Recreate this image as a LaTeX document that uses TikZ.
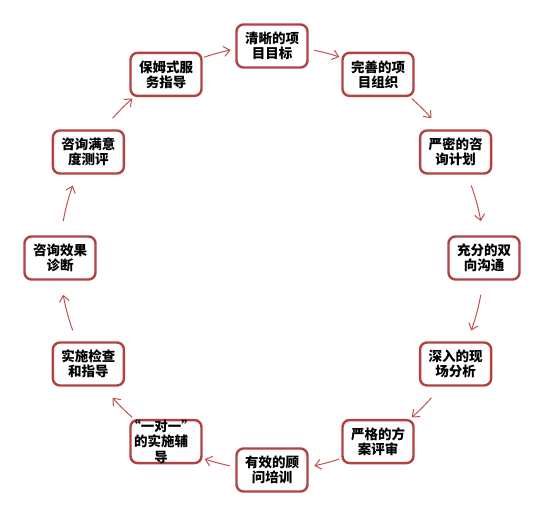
\documentclass[tikz,border=0pt]{standalone}
\usepackage{fontspec}
\newfontfamily\cjk{Noto Sans CJK SC}
\usetikzlibrary{arrows.meta}
\definecolor{boxred}{RGB}{178,66,66}
\definecolor{arrred}{RGB}{192,80,77}
\begin{document}
\begin{tikzpicture}[x=1pt,y=1pt,
  box/.style={draw=boxred, line width=2.4pt, rounded corners=7pt,
    minimum width=71pt, minimum height=43pt, inner sep=0pt, align=center,
    fill=white, font=\cjk\bfseries\fontsize{13.5}{15}\selectfont},
  txt/.style={inner sep=0pt, align=center, font=\cjk\bfseries\fontsize{13.5}{15.5}\selectfont},
  arr/.style={draw=arrred, line width=1pt, -{Straight Barb[length=6pt,width=10pt]}}]
\useasboundingbox (0,0) rectangle (554,511);
\begin{scope}[shift={(272,253)}]
\node[box] (n1) at (90:212) {清晰的项\\目目标};
\node[box] (n2) at (60:212) {完善的项\\目组织};
\node[box] (n3) at (30:212) {严密的咨\\询计划};
\node[box] (n4) at (0:212) {充分的双\\向沟通};
\node[box] (n5) at (-30:212) {深入的现\\场分析};
\node[box] (n6) at (-60:212) {严格的方\\案评审};
\node[box] (n7) at (-90:212) {有效的顾\\问培训};
\node[box] (n8) at (-120:212) {};
\node[txt, xshift=-5pt] (t8) at (-120:212) {“一对一”\\的实施辅\\导};
\node[box] (n9) at (-150:212) {实施检查\\和指导};
\node[box] (n10) at (180:212) {咨询效果\\诊断};
\node[box] (n11) at (150:212) {咨询满意\\度测评};
\node[box] (n12) at (120:212) {保姆式服\\务指导};
\foreach \i/\m/\s in {1/75/7,2/45/7.5,3/15/10,4/-15/10,5/-45/7.5,6/-75/7,
  7/-105/7,8/-135/7.5,9/-165/10,10/165/10,11/135/7.5,12/105/7.5}{
  \coordinate (a\i) at ({\m+\s/2}:212);
  \draw[arr] (a\i) arc[start angle={\m+\s/2}, delta angle={-\s}, radius=212];
}
\end{scope}
\end{tikzpicture}
\end{document}
